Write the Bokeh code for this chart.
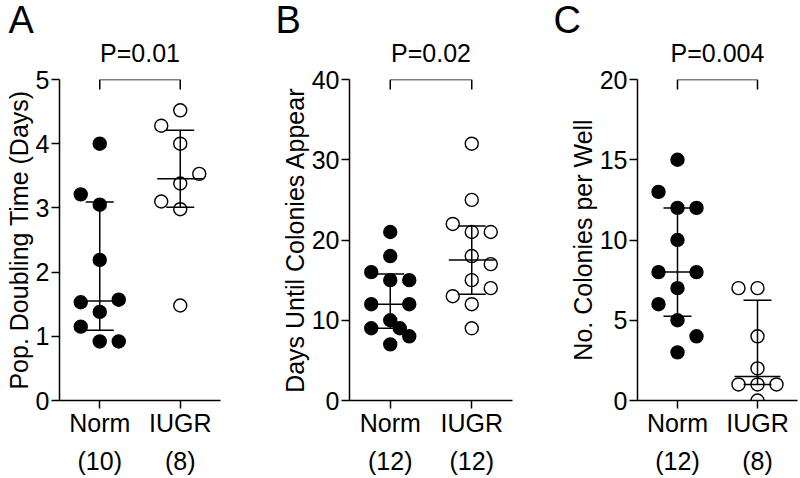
import numpy as np
from bokeh.plotting import figure
from bokeh.models import Range1d, FixedTicker, LinearAxis, Title
from bokeh.layouts import row
from bokeh.embed import file_html
from bokeh.resources import INLINE

groups = ["Norm", "IUGR"]

# Panel A: population doubling time (days)
a_norm = [4.0, 3.21, 3.05, 2.19, 1.53, 1.57, 1.38, 1.15, 0.92, 0.92]
a_norm_slot = [0, -1, 0, 0, -1, 1, 0, -1, 0, 1]
a_iugr = [4.52, 4.28, 4.0, 3.53, 3.38, 3.10, 2.98, 1.48]
a_iugr_slot = [0, -1, 0, 1, 0, -1, 0, 0]
a_counts = [10, 8]
a_p = "P=0.01"

# Panel B: days until colonies appear
b_norm = [21, 18, 16, 15, 15, 12, 12, 10, 9, 9, 8, 7]
b_norm_slot = [0, 0, -1, 0, 1, -1, 1, 0, -1, 0.5, 1, 0]
b_iugr = [32, 25, 22, 21, 21, 18, 17, 15, 14, 13, 12, 9]
b_iugr_slot = [0, 0, -1, 0, 1, 0, 1, 0, 1, -1, 0, 0]
b_counts = [12, 12]
b_p = "P=0.02"

# Panel C: number of colonies per well
c_norm = [15, 13, 12, 12, 10, 8, 8, 7, 6, 5, 4, 3]
c_norm_slot = [0, -1, 0, 1, 0, -1, 1, 0, -1, 0, 1, 0]
c_iugr = [7, 7, 4, 2, 1, 1, 1, 0]
c_iugr_slot = [-1, 0, 0, 0, -1, 0, 1, 0]
c_counts = [12, 8]
c_p = "P=0.004"

FONT = "Liberation Sans"
H = 478
TOP = 79
BOTTOM = 78
SLOT_PX = 19
MED_HALF_PX = 23
Q_HALF_PX = 14
DROP_PX = 10


def panel(letter, letter_dx, ylabel, ymax, ystep, norm, norm_slot, iugr, iugr_slot,
          counts, ptext, width, bl, br):
    frame_w = width - bl - br
    frame_h = H - TOP - BOTTOM
    xpu = frame_w / 2.0
    ypu = frame_h / ymax
    p = figure(width=width, height=H, x_range=Range1d(0.5, 2.5),
               y_range=Range1d(0, ymax), output_backend="svg", title=None,
               toolbar_location=None, min_border_left=bl, min_border_right=br,
               min_border_top=TOP, min_border_bottom=BOTTOM)
    p.outline_line_color = None
    p.xgrid.visible = False
    p.ygrid.visible = False
    p.background_fill_color = "white"
    p.border_fill_color = "white"

    # P value next to the frame, panel letter above it
    p.add_layout(Title(text=ptext, align="center", vertical_align="top", standoff=22,
                       text_font=FONT, text_font_size="25px", text_font_style="normal",
                       text_color="black"), "above")
    p.add_layout(Title(text=letter, align="left", vertical_align="top",
                       offset=letter_dx - bl, standoff=-30, text_font=FONT,
                       text_font_size="38px", text_font_style="normal",
                       text_color="black"), "above")

    # y axis
    ya = p.yaxis[0]
    ya.ticker = FixedTicker(ticks=list(np.arange(0, ymax + ystep / 2, ystep)))
    ya.axis_label = ylabel
    ya.axis_label_text_font = FONT
    ya.axis_label_text_font_size = "25px"
    ya.axis_label_text_font_style = "normal"
    ya.axis_label_text_color = "black"
    ya.axis_label_standoff = 0
    ya.major_label_text_font = FONT
    ya.major_label_text_font_size = "25px"
    ya.major_label_text_color = "black"
    ya.major_label_standoff = 2
    ya.major_tick_in = 0
    ya.major_tick_out = 8
    ya.minor_tick_line_color = None
    ya.axis_line_width = 1.5
    ya.major_tick_line_width = 1.5
    ya.axis_line_color = "black"
    ya.major_tick_line_color = "black"

    # x axis with group names
    xa = p.xaxis[0]
    xa.ticker = FixedTicker(ticks=[1, 2])
    xa.major_label_overrides = {1: groups[0], 2: groups[1]}
    xa.major_label_text_font = FONT
    xa.major_label_text_font_size = "25px"
    xa.major_label_text_color = "black"
    xa.major_label_standoff = 0
    xa.major_tick_in = 0
    xa.major_tick_out = 8
    xa.minor_tick_line_color = None
    xa.axis_line_width = 1.5
    xa.major_tick_line_width = 1.5
    xa.axis_line_color = "black"
    xa.major_tick_line_color = "black"

    # second axis with group sizes
    xa2 = LinearAxis(ticker=FixedTicker(ticks=[1, 2]),
                     major_label_overrides={1: "(%d)" % counts[0], 2: "(%d)" % counts[1]})
    xa2.axis_line_color = None
    xa2.major_tick_line_color = None
    xa2.minor_tick_line_color = None
    xa2.major_tick_in = 0
    xa2.major_tick_out = 0
    xa2.major_label_standoff = 7
    xa2.major_label_text_font = FONT
    xa2.major_label_text_font_size = "25px"
    xa2.major_label_text_color = "black"
    p.add_layout(xa2, "below")

    # median and interquartile range
    for i, vals in enumerate([norm, iugr]):
        cx = i + 1
        q1, med, q3 = np.percentile(vals, [25, 50, 75], method="weibull")
        p.segment(x0=[cx, cx - MED_HALF_PX / xpu, cx - Q_HALF_PX / xpu, cx - Q_HALF_PX / xpu],
                  y0=[q1, med, q1, q3],
                  x1=[cx, cx + MED_HALF_PX / xpu, cx + Q_HALF_PX / xpu, cx + Q_HALF_PX / xpu],
                  y1=[q3, med, q1, q3], line_color="black", line_width=1.5)

    # significance bracket
    drop = DROP_PX / ypu
    p.segment(x0=[1, 1, 2], y0=[ymax, ymax, ymax], x1=[2, 1, 2],
              y1=[ymax, ymax - drop, ymax - drop], line_color="black", line_width=1.5)

    # points
    xn = [1 + s * SLOT_PX / xpu for s in norm_slot]
    xi = [2 + s * SLOT_PX / xpu for s in iugr_slot]
    p.scatter(xn, norm, size=13, fill_color="black", line_color="black", line_width=1.4)
    p.scatter(xi, iugr, size=13, fill_color=None, line_color="black", line_width=1.4)
    return p


pa = panel("A", 8, "Pop. Doubling Time (Days)", 5, 1, a_norm, a_norm_slot, a_iugr,
           a_iugr_slot, a_counts, a_p, 272, 59, 52)
pb = panel("B", 3, "Days Until Colonies Appear", 40, 10, b_norm, b_norm_slot, b_iugr,
           b_iugr_slot, b_counts, b_p, 281, 77, 41)
pc = panel("C", 0, "No. Colonies per Well", 20, 5, c_norm, c_norm_slot, c_iugr,
           c_iugr_slot, c_counts, c_p, 247, 84, 3)

layout = row(pa, pb, pc)
open("out.html", "w").write(file_html(layout, INLINE))
